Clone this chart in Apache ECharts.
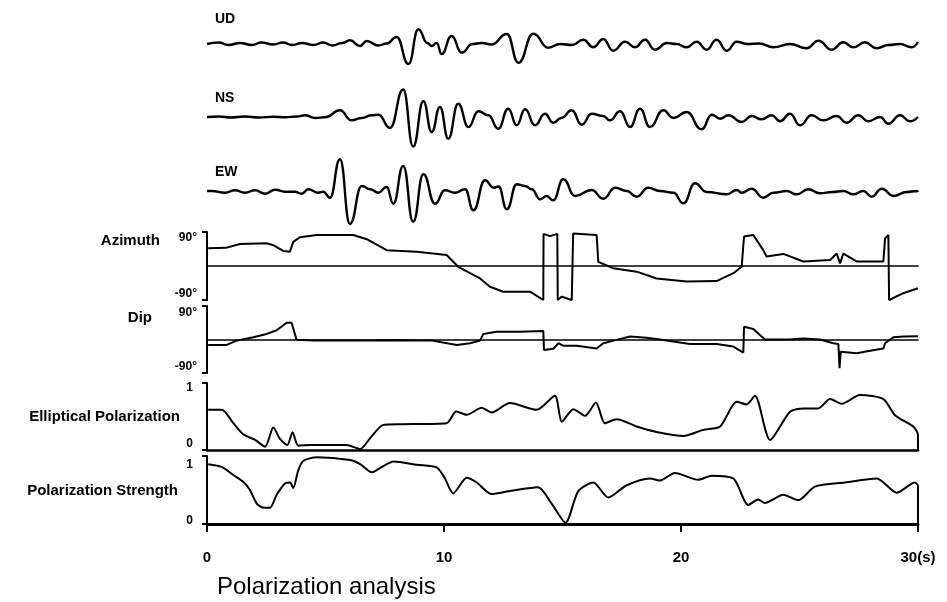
<!DOCTYPE html>
<html>
<head>
<meta charset="UTF-8">
<title>Polarization analysis</title>
<script src="https://cdn.jsdelivr.net/npm/echarts@6/dist/echarts.min.js"></script>
<style>
  body { margin: 0; background: #fff; }
  #root { width: 947px; height: 602px; }
</style>
</head>
<body>
<div id="root"></div>
<script>
// seismograms: [time (s), amplitude]
var udTrace = [[0,0],[0.5,1.5],[0.9,-1],[1.4,1],[1.9,-1],[2.3,1.5],[2.8,-0.5],[3.2,1.5],[3.6,-1],[4.0,1],[4.5,-1],[4.9,1.5],[5.3,-1.5],[5.7,1],[6.03,3.7],[6.45,-2],[6.74,3],[7.23,-1.5],[7.58,0.5],[8.0,7],[8.5,-20],[8.92,14.7],[9.3,1],[9.48,-2],[9.69,1],[9.9,-10],[10.32,8],[10.75,-8.7],[11.2,0],[11.6,1],[12.0,-0.5],[12.65,10],[13.14,-18.7],[13.77,10.3],[14.4,-3.7],[14.9,0],[15.4,-1],[15.88,4.3],[16.3,-3.3],[16.72,5],[17.14,-6.7],[17.64,2.3],[18.06,-3.3],[18.48,4.3],[18.9,-5.7],[19.4,1],[19.82,0],[20.24,-3.3],[20.66,2.3],[21.08,-5.7],[21.5,4.3],[21.93,-6.7],[22.35,2.3],[22.8,0],[23.3,0.5],[23.9,-3.3],[24.6,0],[25.3,-4.3],[25.8,3.3],[26.36,-5.7],[26.85,1.7],[27.27,-3.3],[27.76,1.7],[28.26,-4.3],[28.75,-1],[29.24,0],[29.73,-3.3],[30,2]];
var nsTrace = [[0,0],[0.5,0.5],[1.0,-0.5],[1.6,0.5],[2.2,-0.5],[2.8,0.3],[3.3,-0.3],[3.8,0.5],[4.14,1.7],[4.56,-1],[4.98,-0.3],[5.61,6.7],[6.1,-3.3],[6.53,-1],[6.95,1.7],[7.23,2.3],[7.72,-11],[8.28,27.5],[8.7,-29.5],[9.13,15.7],[9.48,-15],[9.83,10],[10.18,-21.7],[10.6,13.3],[11.03,-10],[11.45,5.7],[11.87,1.7],[12.29,-11.7],[12.71,8.3],[13.07,-8.3],[13.42,7.7],[13.84,-8.3],[14.26,3.3],[14.61,-5.7],[14.95,-1],[15.39,6.7],[15.81,-7.7],[16.23,3.3],[16.72,1],[17.0,-3.3],[17.43,5.7],[17.85,-10],[18.27,8.3],[18.69,-10],[19.25,6.7],[19.68,-1],[20.24,5],[20.87,-12.3],[21.3,2.3],[21.65,-1.7],[22.0,1.7],[22.56,-5],[22.98,1],[23.4,-2.3],[23.83,1.7],[24.18,-4.3],[24.6,3.3],[25.02,-8.3],[25.51,1.7],[26.0,-3.3],[26.57,1],[26.99,-5.7],[27.48,1.7],[27.9,-4.3],[28.4,0],[28.75,-6.7],[29.24,1.7],[29.66,-4.3],[30,0]];
var ewTrace = [[0,0],[0.2,0],[0.76,-1.7],[1.18,0.7],[1.6,-1.7],[2.03,0.7],[2.45,-2.7],[2.87,1.3],[3.29,-0.7],[3.7,-0.7],[4.0,-2.7],[4.27,1.7],[4.7,-1.7],[4.9,-0.7],[5.19,-6.7],[5.61,31.7],[6.03,-33],[6.53,5],[6.88,1.7],[7.23,-1.7],[7.58,4],[7.86,-12.7],[8.28,25],[8.7,-30.7],[9.13,16.7],[9.62,-12.7],[10.04,0.7],[10.46,-1.7],[10.89,1.7],[11.24,-19.3],[11.73,10.7],[12.1,3.3],[12.3,4.5],[12.65,-18.3],[13.07,6.7],[13.42,5],[13.7,1.7],[14.05,-8.3],[14.33,-5],[14.61,-9.3],[15.03,11.7],[15.53,-5],[16.23,1],[16.72,-7.7],[17.22,3.3],[17.71,0],[18.13,-5.7],[18.62,3.3],[19.11,0],[19.68,-1.7],[20.1,-12.3],[20.59,7.7],[21.08,-1],[21.93,-3.3],[22.35,1],[22.56,-1.7],[22.98,2.3],[23.47,-6.7],[23.9,-1.7],[24.46,0],[24.88,-3.3],[25.37,1.7],[25.86,-2.3],[26.4,-1],[26.85,0],[27.27,-3.3],[27.69,0],[28.05,-5.7],[28.47,2.3],[28.96,-5],[29.52,-1],[29.95,0],[30,-1]];

// polarization parameters: [time (s), value]
var azimuth = [[0.05,47],[0.8,48],[1.39,58],[2.52,60],[2.8,55],[3.22,40],[3.5,38],[3.64,64],[3.92,76],[4.63,82],[6.17,82],[6.74,71],[7.58,42],[8.85,38],[10.11,29],[10.6,-2],[11.1,-19],[11.52,-33],[11.94,-55],[12.5,-68],[13.63,-68],[14.19,-90],[14.2,85],[14.47,79],[14.78,85],[14.8,-90],[14.97,-81],[15.39,-90],[15.45,86],[16.44,82],[16.51,11],[17.14,-6],[18.13,-15],[18.97,-33],[20.24,-41],[21.5,-40],[22.21,-19],[22.56,-2],[22.66,78],[23.05,82],[23.47,42],[23.61,25],[24.32,32],[25.16,12],[26.29,16],[26.57,33],[26.71,7],[26.85,33],[27.41,12],[28.54,12],[28.61,73],[28.75,82],[28.78,-90],[29.38,-72],[30,-59]];
var dip = [[0.05,-15],[0.8,-15],[1.25,-3],[1.95,6],[2.52,15],[2.94,25],[3.36,45],[3.57,45],[3.78,-1],[4.5,-3],[6,-3],[8,-2],[9.5,-3],[10.54,-15],[11.1,-10],[11.52,-3],[11.66,15],[12.22,21],[13.21,21],[14.19,23],[14.22,-28],[14.61,-25],[14.83,-10],[15.04,-17],[15.6,-17],[16.44,-24],[16.72,-10],[17.28,-1],[17.85,8],[18.55,5],[19.11,0],[20.38,-12],[21.5,-12],[22.21,-19],[22.63,-35],[22.66,34],[23.05,28],[23.54,0],[24.6,0],[25.16,3],[25.86,0],[26.43,-10],[26.64,-12],[26.69,-77],[26.74,-33],[27.41,-37],[27.98,-30],[28.54,-24],[28.61,-10],[28.96,6],[29.38,8],[30,9]];
var elliptical = [[0.05,0.6],[0.62,0.6],[1.11,0.4],[1.53,0.235],[2.03,0.15],[2.45,0.05],[2.8,0.335],[3.08,0.165],[3.39,0.075],[3.61,0.265],[3.85,0.065],[4.35,0.075],[5.89,0.075],[6.46,0.015],[6.88,0.175],[7.44,0.375],[8.14,0.385],[10.11,0.4],[10.25,0.45],[10.51,0.575],[10.96,0.525],[11.59,0.63],[12.01,0.56],[12.78,0.7],[13.91,0.6],[14.68,0.81],[14.97,0.42],[15.46,0.61],[15.95,0.51],[16.41,0.71],[16.79,0.4],[17.29,0.46],[18.13,0.35],[18.97,0.27],[20.1,0.21],[20.94,0.3],[21.65,0.35],[22.35,0.72],[22.77,0.68],[23.12,0.81],[23.76,0.15],[24.6,0.57],[25.16,0.62],[25.79,0.62],[26.29,0.76],[26.78,0.69],[27.55,0.82],[28.54,0.76],[29.03,0.52],[29.8,0.35],[30,0.22],[30,0]];
var strength = [[0.05,0.88],[0.62,0.84],[1.11,0.72],[1.53,0.62],[1.81,0.5],[2.1,0.3],[2.38,0.24],[2.66,0.24],[2.94,0.43],[3.3,0.6],[3.5,0.61],[3.64,0.53],[3.85,0.79],[4.07,0.93],[4.63,0.98],[6.04,0.94],[6.46,0.88],[6.96,0.76],[7.38,0.84],[7.88,0.92],[8.86,0.87],[9.7,0.83],[10.04,0.67],[10.39,0.45],[10.96,0.68],[11.38,0.61],[12.0,0.44],[12.84,0.49],[13.97,0.54],[14.54,0.3],[15.13,0.02],[15.66,0.48],[16.3,0.61],[16.93,0.39],[17.71,0.57],[18.69,0.67],[19.11,0.64],[19.74,0.75],[20.73,0.65],[21.29,0.71],[22.21,0.67],[22.84,0.28],[23.26,0.36],[23.54,0.31],[24.32,0.43],[24.95,0.35],[25.65,0.55],[26.92,0.61],[28.26,0.67],[29.1,0.46],[29.87,0.61],[30,0.56],[30,0]];

var timeTicks = [0, 10, 20, 30];
var angleTicks = [-90, 90];
var unitTicks = [0, 1];

var FONT = '"Liberation Sans", Arial, sans-serif';
var LEFT = 207, WIDTH = 711;

// panel boxes, top to bottom
var panels = [
    { top: 22, height: 44 },   // UD
    { top: 86, height: 62 },   // NS
    { top: 155, height: 72 },  // EW
    { top: 232, height: 68 },  // Azimuth
    { top: 306, height: 67 },  // Dip
    { top: 383, height: 67 },  // Elliptical
    { top: 456, height: 68 }   // Strength
];

var chart = echarts.init(document.getElementById('root'), null, { renderer: 'canvas' });

function hiddenX(i) {
    return { type: 'value', gridIndex: i, min: 0, max: 30, show: false };
}

// y labels pushed inward like the printed brackets
function bracketLabel(fmt, shiftTop, shiftBottom, max) {
    return {
        show: true,
        margin: 10,
        formatter: function (v) {
            return (v === max ? '{hi|' : '{lo|') + fmt(v) + '}';
        },
        rich: {
            hi: { fontFamily: FONT, fontWeight: 'bold', fontSize: 12, color: '#000', padding: [shiftTop * 2, 0, 0, 0] },
            lo: { fontFamily: FONT, fontWeight: 'bold', fontSize: 12, color: '#000', padding: [0, 0, shiftBottom * 2, 0] }
        }
    };
}

function bracketY(i, ticks, fmt, st, sb, margin) {
    var lab = bracketLabel(fmt, st, sb, ticks[1]);
    lab.margin = margin;
    return {
        type: 'value', gridIndex: i,
        min: ticks[0], max: ticks[1], interval: ticks[1] - ticks[0],
        axisLine: { show: true, lineStyle: { color: '#000', width: 2 } },
        axisTick: { show: true, length: 5, lineStyle: { color: '#000', width: 2 } },
        axisLabel: lab,
        splitLine: { show: false }
    };
}

var deg = function (v) { return v + '°'; };
var plain = function (v) { return String(v); };

var traceLine = { color: '#000', width: 2.4 };

chart.setOption({
    animation: false,
    backgroundColor: '#fff',
    grid: panels.map(function (p) {
        return { left: LEFT, width: WIDTH, top: p.top, height: p.height };
    }),
    xAxis: [
        hiddenX(0), hiddenX(1), hiddenX(2),
        {
            type: 'value', gridIndex: 3, min: 0, max: 30,
            axisLine: { show: true, onZero: true, lineStyle: { color: '#000', width: 1.6 } },
            axisTick: { show: false }, axisLabel: { show: false }, splitLine: { show: false }
        },
        {
            type: 'value', gridIndex: 4, min: 0, max: 30,
            axisLine: { show: true, onZero: true, lineStyle: { color: '#000', width: 1.6 } },
            axisTick: { show: false }, axisLabel: { show: false }, splitLine: { show: false }
        },
        {
            type: 'value', gridIndex: 5, min: 0, max: 30,
            axisLine: { show: true, lineStyle: { color: '#000', width: 2.6 } },
            axisTick: { show: false }, axisLabel: { show: false }, splitLine: { show: false }
        },
        {
            type: 'value', gridIndex: 6, min: timeTicks[0], max: timeTicks[3], interval: 10,
            axisLine: { show: true, lineStyle: { color: '#000', width: 3 } },
            axisTick: { show: true, length: 8, lineStyle: { color: '#000', width: 2 } },
            axisLabel: {
                margin: 26, color: '#000', fontFamily: FONT, fontWeight: 'bold', fontSize: 15,
                formatter: function (v) { return v === 30 ? '30(s)' : String(v); }
            },
            splitLine: { show: false }
        }
    ],
    yAxis: [
        { type: 'value', gridIndex: 0, min: -22, max: 22, show: false },
        { type: 'value', gridIndex: 1, min: -31, max: 31, show: false },
        { type: 'value', gridIndex: 2, min: -36, max: 36, show: false },
        bracketY(3, angleTicks, deg, 6, 6, 10),
        bracketY(4, angleTicks, deg, 7, 6, 10),
        bracketY(5, unitTicks, plain, 5, 6, 14),
        bracketY(6, unitTicks, plain, 9, 3, 14)
    ],
    series: [
        { type: 'line', xAxisIndex: 0, yAxisIndex: 0, data: udTrace, showSymbol: false, smooth: 0.5, smoothMonotone: 'x', lineStyle: traceLine },
        { type: 'line', xAxisIndex: 1, yAxisIndex: 1, data: nsTrace, showSymbol: false, smooth: 0.5, smoothMonotone: 'x', lineStyle: traceLine },
        { type: 'line', xAxisIndex: 2, yAxisIndex: 2, data: ewTrace, showSymbol: false, smooth: 0.5, smoothMonotone: 'x', lineStyle: traceLine },
        { type: 'line', xAxisIndex: 3, yAxisIndex: 3, data: azimuth, showSymbol: false, lineStyle: { color: '#000', width: 2 } },
        { type: 'line', xAxisIndex: 4, yAxisIndex: 4, data: dip, showSymbol: false, lineStyle: { color: '#000', width: 2 } },
        { type: 'line', xAxisIndex: 5, yAxisIndex: 5, data: elliptical, showSymbol: false, smooth: 0.25, lineStyle: { color: '#000', width: 2 } },
        { type: 'line', xAxisIndex: 6, yAxisIndex: 6, data: strength, showSymbol: false, smooth: 0.25, lineStyle: { color: '#000', width: 2 } }
    ],
    graphic: [
        { type: 'text', x: 215, y: 19, style: { text: 'UD', font: 'bold 14px ' + FONT, fill: '#000', verticalAlign: 'middle' } },
        { type: 'text', x: 215, y: 98, style: { text: 'NS', font: 'bold 14px ' + FONT, fill: '#000', verticalAlign: 'middle' } },
        { type: 'text', x: 215, y: 172, style: { text: 'EW', font: 'bold 14px ' + FONT, fill: '#000', verticalAlign: 'middle' } },
        { type: 'text', x: 160, y: 241, style: { text: 'Azimuth', font: 'bold 15px ' + FONT, fill: '#000', align: 'right', verticalAlign: 'middle' } },
        { type: 'text', x: 152, y: 318, style: { text: 'Dip', font: 'bold 15px ' + FONT, fill: '#000', align: 'right', verticalAlign: 'middle' } },
        { type: 'text', x: 180, y: 417, style: { text: 'Elliptical Polarization', font: 'bold 15px ' + FONT, fill: '#000', align: 'right', verticalAlign: 'middle' } },
        { type: 'text', x: 178, y: 491, style: { text: 'Polarization Strength', font: 'bold 15px ' + FONT, fill: '#000', align: 'right', verticalAlign: 'middle' } },
        { type: 'text', x: 217, y: 587, style: { text: 'Polarization analysis', font: '24px ' + FONT, fill: '#000', verticalAlign: 'middle' } }
    ]
});
</script>
</body>
</html>
